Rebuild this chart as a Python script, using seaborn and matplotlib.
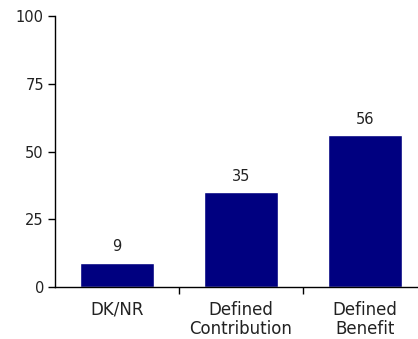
import matplotlib
matplotlib.use("Agg")
import matplotlib.pyplot as plt
import seaborn as sns
import pandas as pd

categories = ["DK/NR", "Defined\nContribution", "Defined\nBenefit"]
values = [9, 35, 56]
y_ticks = [0, 25, 50, 75, 100]

df = pd.DataFrame({"plan": categories, "pct": values})

sns.set_style("white")
plt.rcParams["font.family"] = ["DejaVu Sans"]
plt.rcParams["font.size"] = 10

fig = plt.figure(figsize=(4.18, 3.39), dpi=100)
ax = fig.add_axes([55 / 418, 52 / 339, 372 / 418, 271 / 339])

sns.barplot(data=df, x="plan", y="pct", color="#000080", saturation=1,
            width=0.6, ax=ax)

ax.set_ylim(0, 100)
ax.set_xlim(-0.5, 2.5)
ax.set_yticks(y_ticks)
ax.set_xlabel("")
ax.set_ylabel("")

# category boundary ticks, labels centred under bars
ax.set_xticks([0.5, 1.5])
ax.set_xticklabels([])
ax.set_xticks([0, 1, 2], minor=True)
ax.set_xticklabels(categories, minor=True, fontsize=12, color="#222222",
                   linespacing=1.1)
ax.tick_params(axis="x", which="minor", length=0, pad=10)
ax.tick_params(axis="x", which="major", direction="out", length=5, width=1,
               color="black", bottom=True)
ax.tick_params(axis="y", direction="out", length=5, width=1, color="black",
               left=True, labelsize=10.5, labelcolor="#222222", pad=3)

for s in ["top", "right"]:
    ax.spines[s].set_visible(False)
for s in ["left", "bottom"]:
    ax.spines[s].set_color("black")
    ax.spines[s].set_linewidth(1)

ax.bar_label(ax.containers[0], labels=[str(v) for v in values], padding=6,
             fontsize=10.5, color="#222222")

fig.savefig("out.png", dpi=100)
